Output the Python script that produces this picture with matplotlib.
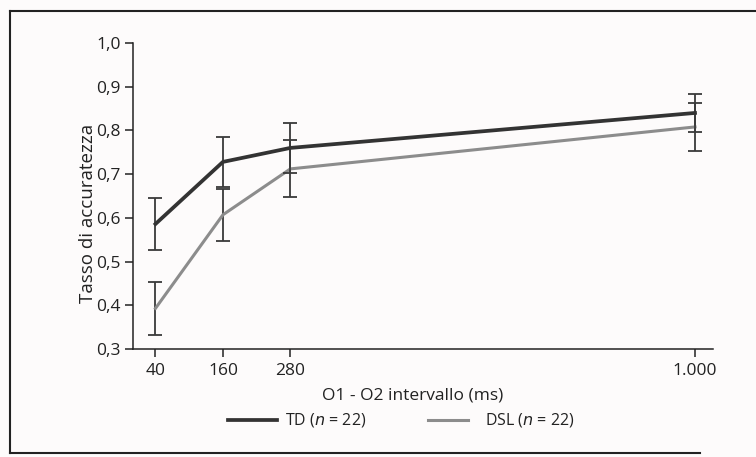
import numpy as np
import matplotlib.pyplot as plt
from matplotlib.lines import Line2D

plt.rcParams['font.family'] = ['Open Sans', 'DejaVu Sans']

# interval O1-O2 (ms)
intervals = [40, 160, 280, 1000]
td_mean = [0.586, 0.728, 0.760, 0.840]
td_err = [0.060, 0.058, 0.057, 0.043]
dsl_mean = [0.393, 0.607, 0.712, 0.808]
dsl_err = [0.061, 0.060, 0.065, 0.055]
yticks = [0.3, 0.4, 0.5, 0.6, 0.7, 0.8, 0.9, 1.0]
ytick_labels = ['0,3', '0,4', '0,5', '0,6', '0,7', '0,8', '0,9', '1,0']
xtick_labels = ['40', '160', '280', '1.000']

W, H = 756, 457
fig = plt.figure(figsize=(W / 100, H / 100), dpi=100)
fig.patch.set_facecolor('#fdfbfb')

ax = fig.add_axes([133 / W, 1 - 349 / H, (713 - 133) / W, (349 - 43) / H])
ax.set_facecolor('none')

td_col = '#333333'
dsl_col = '#8c8c8c'
err_col = '#3a3a3a'
txt_col = '#222222'

ax.errorbar(intervals, dsl_mean, yerr=dsl_err, color=dsl_col, lw=2.2,
            ecolor=err_col, elinewidth=1.3, capsize=5, capthick=1.3, zorder=2)
ax.errorbar(intervals, td_mean, yerr=td_err, color=td_col, lw=2.7,
            ecolor=err_col, elinewidth=1.3, capsize=5, capthick=1.3, zorder=3)

ax.set_xlim(0, 1032)
ax.set_ylim(0.3, 1.0)
ax.set_xticks(intervals)
ax.set_xticklabels(xtick_labels)
ax.set_yticks(yticks)
ax.set_yticklabels(ytick_labels)
ax.tick_params(axis='both', direction='out', length=6, width=1.1,
               labelsize=12.5, colors=txt_col)
ax.tick_params(axis='y', pad=3)
ax.tick_params(axis='x', pad=4)
for s in ['top', 'right']:
    ax.spines[s].set_visible(False)
for s in ['left', 'bottom']:
    ax.spines[s].set_linewidth(1.1)
    ax.spines[s].set_color(txt_col)

fig.text(88 / W, 1 - 213 / H, 'Tasso di accuratezza', fontsize=13.5,
         rotation=90, ha='center', va='center', color=txt_col)
fig.text(413 / W, 1 - 396 / H, 'O1 - O2 intervallo (ms)', fontsize=12.5,
         ha='center', va='center', color=txt_col)

# legend drawn by hand below the axis
fig.add_artist(Line2D([228 / W, 277 / W], [1 - 420 / H] * 2, color=td_col, lw=2.7))
fig.text(285 / W, 1 - 420 / H, 'TD ($\\it{n}$ = 22)', fontsize=11.5,
         ha='left', va='center', color=txt_col)
fig.add_artist(Line2D([428 / W, 468 / W], [1 - 420 / H] * 2, color=dsl_col, lw=2.2))
fig.text(485 / W, 1 - 420 / H, 'DSL ($\\it{n}$ = 22)', fontsize=11.5,
         ha='left', va='center', color=txt_col)

# page frame
fig.add_artist(Line2D([10 / W, 1.0], [1 - 11 / H] * 2, color=txt_col, lw=1.5))
fig.add_artist(Line2D([10 / W, 10 / W], [1 - 11 / H, 1 - 453 / H], color=txt_col, lw=1.5))
fig.add_artist(Line2D([10 / W, 700 / W], [1 - 453 / H] * 2, color=txt_col, lw=1.5))

plt.savefig('out.png', dpi=100)
